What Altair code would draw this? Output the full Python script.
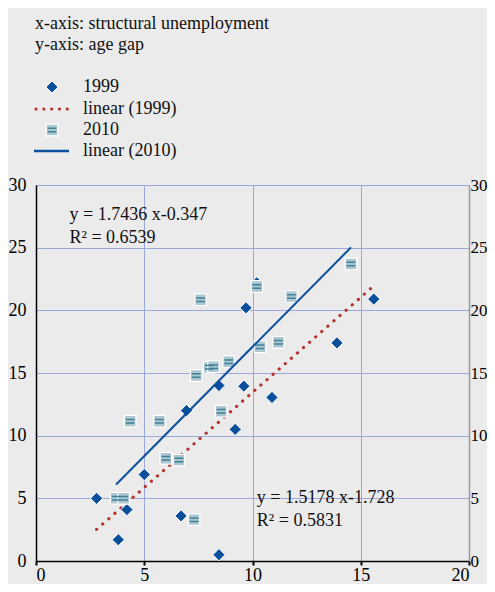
import altair as alt
import pandas as pd

# ---- data ----
x1999 = [2.8, 3.8, 4.2, 5.0, 6.95, 6.7, 8.45, 8.45, 9.2, 9.6, 10.9, 9.7, 10.2, 13.9, 15.6]
y1999 = [5.0, 1.7, 4.1, 6.9, 12.0, 3.6, 14.0, 0.5, 10.5, 13.95, 13.05, 20.2, 22.2, 17.4, 20.9]
x2010 = [3.7, 4.05, 4.35, 5.7, 6.0, 6.6, 7.3, 7.4, 8.0, 8.2, 8.55, 8.9, 7.6, 10.2, 10.35, 11.2, 11.8, 14.55]
y2010 = [5.0, 5.0, 11.15, 11.15, 8.2, 8.05, 3.3, 14.8, 15.45, 15.5, 11.95, 15.9, 20.85, 21.9, 17.1, 17.45, 21.1, 23.7]

slope = {"1999": 1.5178, "2010": 1.7436}
intercept = {"1999": -1.728, "2010": -0.347}
eq_labels = ["y = 1.7436 x-0.347", "R\u00b2 = 0.6539", "y = 1.5178 x-1.728", "R\u00b2 = 0.5831"]
eq_x = [1.55, 1.55, 10.2, 10.2]
eq_y = [27.6, 25.75, 5.05, 3.2]
legend_labels = ["1999", "linear (1999)", "2010", "linear (2010)"]
header_lines = ["x-axis: structural unemployment", "y-axis: age gap"]
x_ticks = [0, 5, 10, 15, 20]
y_ticks = [0, 5, 10, 15, 20, 25, 30]

BLUE = "#0a4f9c"
RED = "#b5332e"
SQ_FILL = "#adc6cf"
SQ_LINE = "#3f8198"
GRID = "#9aa8dc"
BG = "#ebebeb"
FONT = "Liberation Serif"
FS = 18

df99 = pd.DataFrame({"x": x1999, "y": y1999})
df10 = pd.DataFrame({"x": x2010, "y": y2010})


def fit_df(xs, key):
    lo, hi = min(xs), max(xs)
    return pd.DataFrame({"x": [lo, hi], "y": [slope[key] * lo + intercept[key], slope[key] * hi + intercept[key]]})


fit99 = fit_df(x1999, "1999")
fit10 = fit_df(x2010, "2010")
eq_df = pd.DataFrame({"x": eq_x, "y": eq_y, "t": eq_labels})

xscale = alt.Scale(domain=[0, 20], nice=False, zero=False)
yscale = alt.Scale(domain=[0, 30], nice=False, zero=False)

x_axis = alt.Axis(values=x_ticks, grid=True, gridColor=GRID, gridWidth=1, domainColor="black",
                  domainWidth=1.5, tickColor="black", tickSize=4, tickWidth=2, labelFont=FONT,
                  labelFontSize=FS, labelColor="black", labelPadding=1, title=None, format="d")
y_left = alt.Axis(values=y_ticks, grid=True, gridColor=GRID, gridWidth=1, domainColor="black",
                  domainWidth=1.5, ticks=False, labelFont=FONT, labelFontSize=FS, labelColor="black",
                  labelPadding=10, title=None, orient="left", format="d")
y_right = alt.Axis(values=y_ticks, grid=False, domainColor="#9a9a9a", domainWidth=1.5, ticks=False,
                   labelFont=FONT, labelFontSize=17, labelColor="black", labelPadding=1, title=None,
                   orient="right", format="d")


def enc(yaxis=None):
    return dict(
        x=alt.X("x:Q", scale=xscale, axis=x_axis),
        y=alt.Y("y:Q", scale=yscale, axis=yaxis),
    )


dot_line = alt.Chart(fit99).mark_line(color=RED, strokeWidth=3.2, strokeDash=[0.1, 8],
                                      strokeCap="round").encode(**enc(y_left))
diamonds = alt.Chart(df99).mark_point(shape="diamond", filled=True, fill=BLUE, stroke="white",
                                      strokeWidth=1, size=150, opacity=1).encode(**enc(y_right))
squares = alt.Chart(df10).mark_point(shape="square", filled=True, fill=SQ_FILL, stroke="white",
                                     strokeWidth=1.2, size=135, opacity=1).encode(**enc())
sq_lines = alt.Chart(df10).mark_point(shape="M-0.75,-0.3L0.75,-0.3M-0.75,0.3L0.75,0.3", filled=False,
                                      stroke=SQ_LINE, strokeWidth=1.5, size=135, opacity=1).encode(**enc())
solid_line = alt.Chart(fit10).mark_line(color=BLUE, strokeWidth=2).encode(**enc())
eq_text = alt.Chart(eq_df).mark_text(align="left", baseline="middle", font=FONT, fontSize=FS,
                                     color="#111111").encode(
    x=alt.X("x:Q", scale=xscale, axis=x_axis), y=alt.Y("y:Q", scale=yscale, axis=None), text="t:N")

# header text and legend (positions in pixels relative to the plot area)
header = [
    alt.Chart(pd.DataFrame({"t": [header_lines[i]]})).mark_text(
        align="left", baseline="middle", font=FONT, fontSize=FS, color="#111111").encode(
        x=alt.value(-1), y=alt.value(yy), text="t:N")
    for i, yy in enumerate([-161, -140])
]

leg_y = [-98, -76, -55, -34]
leg_text = [
    alt.Chart(pd.DataFrame({"t": [legend_labels[i]]})).mark_text(
        align="left", baseline="middle", font=FONT, fontSize=FS, color="#111111").encode(
        x=alt.value(47), y=alt.value(leg_y[i]), text="t:N")
    for i in range(4)
]
one = pd.DataFrame({"k": [0]})
leg_diamond = alt.Chart(one).mark_point(shape="diamond", filled=True, fill=BLUE, stroke="white",
                                        strokeWidth=1, size=150, opacity=1).encode(
    x=alt.value(16), y=alt.value(leg_y[0]))
leg_dots = alt.Chart(one).mark_rule(color=RED, strokeWidth=3.2, strokeDash=[0.1, 7.7],
                                    strokeCap="round").encode(
    x=alt.value(0), x2=alt.value(32), y=alt.value(leg_y[1]))
leg_square = alt.Chart(one).mark_point(shape="square", filled=True, fill=SQ_FILL, stroke="white",
                                       strokeWidth=1.2, size=135, opacity=1).encode(
    x=alt.value(16), y=alt.value(leg_y[2]))
leg_square_lines = alt.Chart(one).mark_point(shape="M-0.75,-0.3L0.75,-0.3M-0.75,0.3L0.75,0.3",
                                             filled=False, stroke=SQ_LINE, strokeWidth=1.5, size=135,
                                             opacity=1).encode(
    x=alt.value(16), y=alt.value(leg_y[2]))
leg_solid = alt.Chart(one).mark_rule(color=BLUE, strokeWidth=2.5).encode(
    x=alt.value(-2), x2=alt.value(33), y=alt.value(leg_y[3]))

chart = alt.layer(
    dot_line, diamonds, squares, sq_lines, solid_line, eq_text,
    *header, *leg_text, leg_diamond, leg_dots, leg_square, leg_square_lines, leg_solid,
).resolve_axis(y="independent").properties(
    width=433, height=376,
    autosize=alt.AutoSizeParams(type="none"),
    padding={"left": 28, "top": 177, "right": 18, "bottom": 23},
    background=BG,
).configure_view(stroke=None, fill=BG)

chart.save("out.html", embed_options={"renderer": "svg", "actions": False})
